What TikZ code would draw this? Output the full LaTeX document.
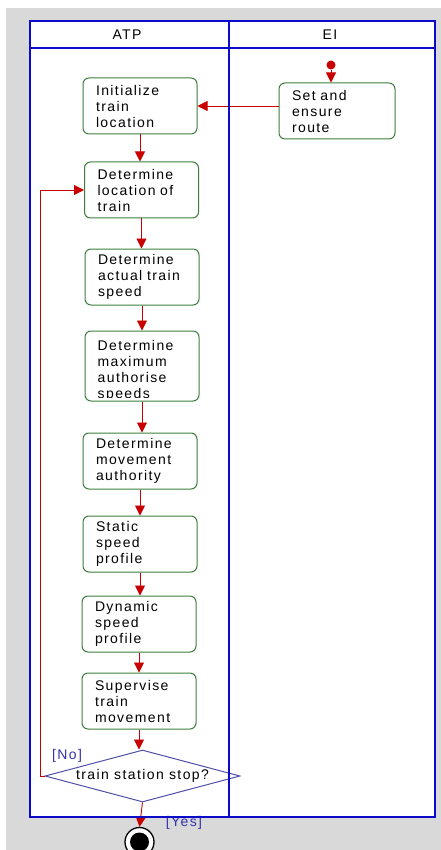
\documentclass[tikz,border=0pt]{standalone}
\usepackage{fontspec}
\setmainfont{Liberation Sans}[LetterSpace=10]
\usetikzlibrary{shapes.geometric,arrows.meta,calc}

\definecolor{laneblue}{RGB}{10,10,200}
\definecolor{flowred}{RGB}{200,0,0}
\definecolor{actgreen}{RGB}{60,125,60}
\definecolor{decblue}{RGB}{80,80,170}
\definecolor{guardblue}{RGB}{50,50,170}
\definecolor{canvas}{RGB}{217,217,217}

\newcommand{\actfont}{\fontsize{14}{16}\selectfont}

\tikzset{
  action/.style={draw=actgreen, line width=1pt, fill=white, rounded corners=6pt, text width=88pt,
    inner xsep=13pt, inner ysep=0pt, minimum height=56pt, align=left, font=\actfont},
  flow/.style={draw=flowred, line width=0.9pt, -{Triangle[length=10pt,width=10pt]}},
  decision/.style={diamond, draw=decblue, line width=1pt, fill=white, aspect=3.75, minimum width=195pt,
    minimum height=52pt, inner sep=0pt, font=\actfont},
  guard/.style={text=guardblue, font=\actfont},
  lane/.style={draw=laneblue, line width=1.8pt},
}

\begin{document}
\begin{tikzpicture}[x=1pt, y=-1pt]
      \useasboundingbox (0,0) rectangle (441,850);
      % Background and swimlanes
      \fill[canvas] (6,8) rectangle (441,850);
      \fill[white] (30,21) rectangle (435,817);
      \node[font=\actfont] (atp) at (127,34.5) {ATP};
      \node[font=\actfont] (ei) at (330,34.5) {EI};

      % Start
      \node[circle, fill=flowred, inner sep=0pt, minimum size=9pt] (start) at (331,65) {};

      % Actions
      \node[action, text width=90pt] (route) at (337,111) {Set and\\ensure\\route};
      \node[action] (init) at (140,106) {Initialize\\train\\location};
      \node[action] (loc) at (141.5,190) {Determine\\location of\\train};
      \node[action] (speed) at (142,277) {Determine\\actual train\\speed};
      \node[action, minimum height=70pt] (maxs) at (142,366) {};
      \begin{scope}
        \clip ($(maxs.south west)+(1,-4)$) rectangle ($(maxs.north east)+(-1,1)$);
        \node[font=\actfont, align=left, text width=88pt, inner sep=0pt, anchor=north west]
          (maxstext) at ($(maxs.north west)+(13,10)$) {Determine\\maximum\\authorise\\speeds};
      \end{scope}
      \node[action] (ma) at (140,461) {Determine\\movement\\authority};
      \node[action] (static) at (140,544) {Static\\speed\\profile};
      \node[action] (dyn) at (139,624) {Dynamic\\speed\\profile};
      \node[action] (sup) at (139,701) {Supervise\\train\\movement};
      \node[decision] (stop) at (142.5,776) {train station stop?};

      % End
      \node[circle, draw=black, line width=1.3pt, fill=white, minimum size=29pt] (end) at (139.5,842) {};
      \fill[black] (end.center) circle (9.5);

      % Control flow
      \draw[flow] (start.south) -- (start.south |- route.north);
      \draw[flow] (route.west |- init.east) -- (init.east);
      \draw[flow] (init.south) -- (init.south |- loc.north);
      \draw[flow] (loc.south) -- (loc.south |- speed.north);
      \draw[flow] (speed.south) -- (speed.south |- maxs.north);
      \draw[flow] (maxs.south) -- (maxs.south |- ma.north);
      \draw[flow] (ma.south) -- (ma.south |- static.north);
      \draw[flow] (static.south) -- (static.south |- dyn.north);
      \draw[flow] (dyn.south) -- (dyn.south |- sup.north);
      \draw[flow] (sup.south) -- (sup.south |- stop.north);
      \draw[flow] (stop.west) -- ++(-4,0) |- (loc.west);
      \draw[flow] (stop.south) -- (end.north);

      % Guards
      \node[guard] (no) at (67,756) {[No]};
      \node[guard] (yes) at (184,823) {[Yes]};

      % Lane borders on top
      \draw[lane] (30,21) rectangle (435,817);
      \draw[lane] (30,48) -- (435,48);
      \draw[lane] (229,21) -- (229,817);
\end{tikzpicture}
\end{document}
